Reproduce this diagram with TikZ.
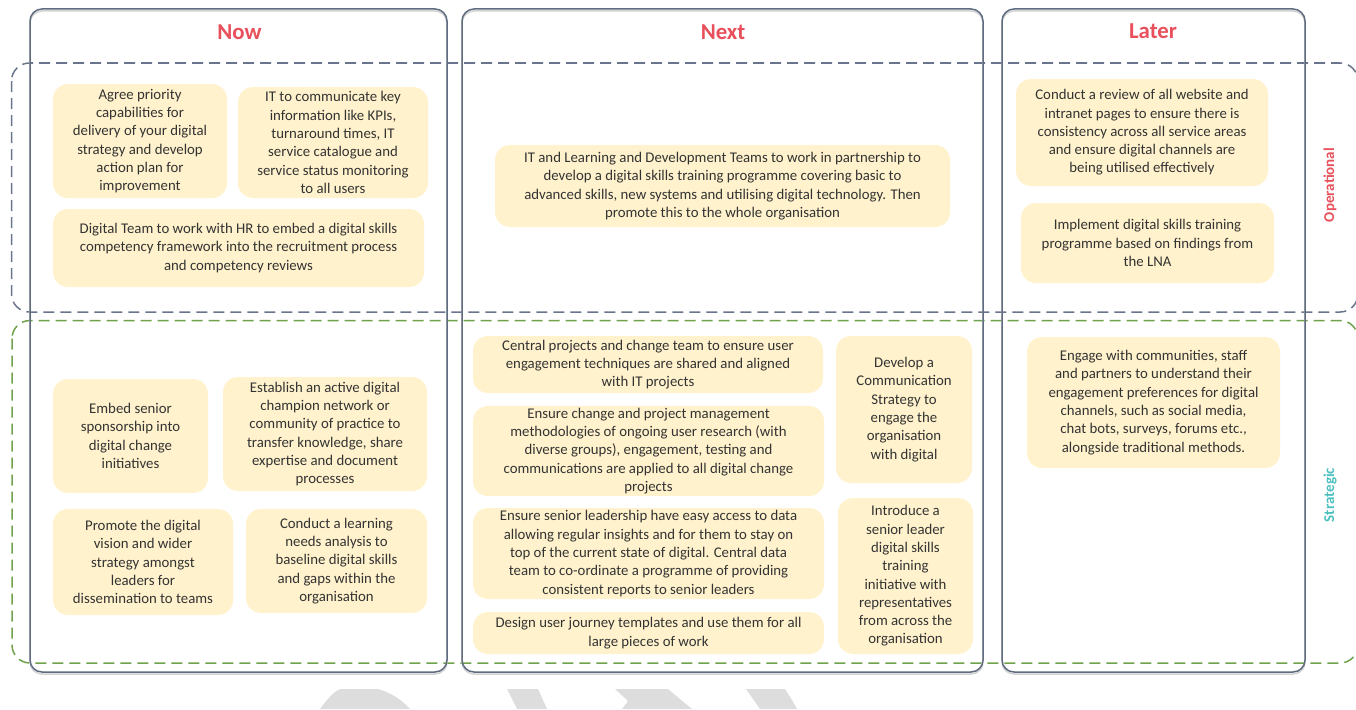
\documentclass[tikz,border=0pt]{standalone}
\usepackage{fontspec}
\setmainfont{Carlito}
\definecolor{hdr}{HTML}{E8505B}
\definecolor{teal}{HTML}{4DBFBF}
\definecolor{txt}{HTML}{333333}
\definecolor{boxfill}{HTML}{FFF2CC}
\definecolor{colline}{HTML}{5F6B7E}
\definecolor{opdash}{HTML}{6A748C}
\definecolor{stdash}{HTML}{6FA24B}
\definecolor{wm}{HTML}{DDDDDD}
\tikzset{
  colbox/.style={draw=colline, line width=1.5pt, rounded corners=12pt},
  colshadow/.style={draw=gray!35, line width=1.5pt, rounded corners=12pt},
  oprow/.style={draw=opdash, line width=1.5pt, dash pattern=on 11pt off 6pt, rounded corners=18pt},
  strow/.style={draw=stdash, line width=1.5pt, dash pattern=on 11pt off 6pt, rounded corners=18pt},
  card/.style={fill=boxfill, rounded corners=15pt, align=center, inner sep=2pt,
    text=txt, font=\fontsize{14.8}{18.3}\selectfont},
  header/.style={text=hdr, font=\fontsize{22.8}{26}\selectfont\bfseries},
  rowlabel/.style={rotate=90, font=\fontsize{15}{18}\selectfont\bfseries},
}
\newcommand\bx[6]{\node[card, minimum width={(#4-#2)*1pt}, minimum height={(#5-#3)*1pt}] (#1) at ({(#2+#4)/2},{(#3+#5)/2}) {#6};}
\begin{document}
\begin{tikzpicture}[x=1pt,y=-1pt]
\useasboundingbox (0,0) rectangle (1356,709);
\clip (0,0) rectangle (1356,709);
% watermark shapes at bottom
\fill[wm] (320,709) .. controls (328,698) and (336,689) .. (342,689) -- (378,689) .. controls (390,692) and (402,700) .. (410,709) -- cycle;
\fill[wm] (507,689) -- (538,689) -- (547,709) -- (517,709) -- cycle;
\fill[wm] (615,689) -- (668,689) -- (692,709) -- (622,709) -- (628,701) -- cycle;
\fill[wm] (746,689) -- (785,689) -- (792,700) .. controls (795,704) .. (797,709) -- (760,709) -- cycle;
% rows
\draw[oprow] (11.5,63) rectangle (1358,312);
\draw[strow] (12,320.5) rectangle (1358,663);
% columns
\draw[colshadow] (30,11) rectangle (447,674);
\draw[colshadow] (462,11) rectangle (983,674);
\draw[colshadow] (1002,11) rectangle (1305,674);
\draw[colbox] (30,9) rectangle (447,672);
\draw[colbox] (462,9) rectangle (983,672);
\draw[colbox] (1002,9) rectangle (1305,672);
% headers
\node[header] (hnow) at (239.5,32) {Now};
\node[header] (hnext) at (723,32) {Next};
\node[header] (hlater) at (1153,31) {Later};
\node[rowlabel, text=hdr] (lop) at (1330,185) {Operational};
\node[rowlabel, text=teal] (lst) at (1330,495) {Strategic};
% Now - operational
\bx{a1}{53}{84}{227}{198}{Agree priority\\capabilities for\\delivery of your digital\\strategy and develop\\action plan for\\improvement}
\bx{a2}{238}{87}{428}{198}{IT to communicate key\\information like KPIs,\\turnaround times, IT\\service catalogue and\\service status monitoring\\to all users}
\bx{a3}{53}{209}{424}{287}{Digital Team to work with HR to embed a digital skills\\competency framework into the recruitment process\\and competency reviews}
% Now - strategic
\bx{s1}{53}{379}{208}{493}{Embed senior\\sponsorship into\\digital change\\initiatives}
\bx{s2}{223}{377}{427}{491}{Establish an active digital\\champion network or\\community of practice to\\transfer knowledge, share\\expertise and document\\processes}
\bx{s3}{53}{509}{233}{615}{Promote the digital\\vision and wider\\strategy amongst\\leaders for\\dissemination to teams}
\bx{s4}{246}{509}{427}{613}{Conduct a learning\\needs analysis to\\baseline digital skills\\and gaps within the\\organisation}
% Next - operational
\bx{n1}{495}{145}{950}{227}{IT and Learning and Development Teams to work in partnership to\\develop a digital skills training programme covering basic to\\advanced skills, new systems and utilising digital technology. Then\\promote this to the whole organisation}
% Next - strategic
\bx{c1}{473}{336}{823}{393}{Central projects and change team to ensure user\\engagement techniques are shared and aligned\\with IT projects}
\bx{c2}{473}{406}{824}{496}{Ensure change and project management\\methodologies of ongoing user research (with\\diverse groups), engagement, testing and\\communications are applied to all digital change\\projects}
\bx{c3}{473}{508}{824}{599}{Ensure senior leadership have easy access to data\\allowing regular insights and for them to stay on\\top of the current state of digital. Central data\\team to co-ordinate a programme of providing\\consistent reports to senior leaders}
\bx{c4}{473}{612}{824}{654}{Design user journey templates and use them for all\\large pieces of work}
\bx{c5}{836}{336}{972}{483}{Develop a\\Communication\\Strategy to\\engage the\\organisation\\with digital}
\bx{c6}{838}{498}{973}{654}{Introduce a\\senior leader\\digital skills\\training\\initiative with\\representatives\\from across the\\organisation}
% Later
\bx{l1}{1016}{79}{1268}{186}{Conduct a review of all website and\\intranet pages to ensure there is\\consistency across all service areas\\and ensure digital channels are\\being utilised effectively}
\bx{l2}{1021}{203}{1274}{283}{Implement digital skills training\\programme based on findings from\\the LNA}
\bx{l3}{1027}{337}{1280}{468}{Engage with communities, staff\\and partners to understand their\\engagement preferences for digital\\channels, such as social media,\\chat bots, surveys, forums etc.,\\alongside traditional methods.}
\end{tikzpicture}
\end{document}
